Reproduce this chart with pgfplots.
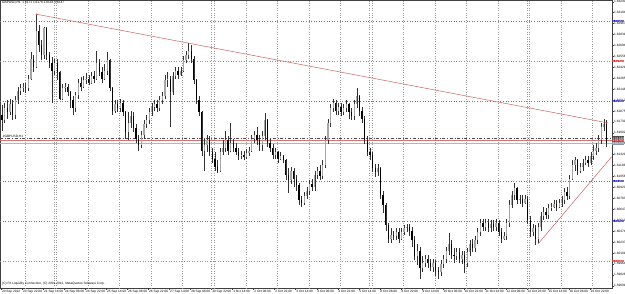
\documentclass[border=0pt]{standalone}
\usepackage{fontspec}
\setmainfont{Liberation Sans}
\usepackage{pgfplots}
\usepackage{pgfplotstable}
\pgfplotsset{compat=1.18}
\usetikzlibrary{calc}
\pgfdeclarelayer{bg}
\pgfsetlayers{bg,main}
\definecolor{hblue}{HTML}{6C6CD8}
\definecolor{hred}{HTML}{D87474}
\definecolor{tline}{HTML}{C86464}
\definecolor{boxblue}{HTML}{2424A8}
\definecolor{boxred}{HTML}{D82828}
\definecolor{gridc}{HTML}{9A9A9A}
\definecolor{bidc}{HTML}{8A96AA}
\pgfplotstableread{
k o h l c
0 1.6182 1.6195 1.6163 1.6176
1 1.6176 1.6197 1.6173 1.6191
2 1.6191 1.6201 1.6178 1.6186
3 1.6186 1.6203 1.6182 1.6196
4 1.6196 1.6201 1.6176 1.6183
5 1.6183 1.6206 1.6178 1.6201
6 1.6201 1.6218 1.6196 1.6213
7 1.6213 1.6221 1.6208 1.6216
8 1.6216 1.6223 1.6211 1.6218
9 1.6218 1.6222 1.6210 1.6216
10 1.6216 1.6233 1.6213 1.6228
11 1.6228 1.6261 1.6226 1.6253
12 1.6253 1.6257 1.6236 1.6243
13 1.6243 1.6307 1.6241 1.6288
14 1.6288 1.6295 1.6261 1.6270
15 1.6270 1.6276 1.6251 1.6257
16 1.6257 1.6292 1.6253 1.6291
17 1.6291 1.6292 1.6251 1.6257
18 1.6257 1.6261 1.6241 1.6248
19 1.6248 1.6255 1.6197 1.6238
20 1.6238 1.6253 1.6232 1.6248
21 1.6248 1.6253 1.6226 1.6236
22 1.6236 1.6238 1.6201 1.6203
23 1.6203 1.6221 1.6201 1.6216
24 1.6216 1.6223 1.6211 1.6218
25 1.6218 1.6221 1.6206 1.6211
26 1.6211 1.6213 1.6191 1.6201
27 1.6201 1.6206 1.6182 1.6191
28 1.6191 1.6211 1.6186 1.6207
29 1.6207 1.6228 1.6203 1.6223
30 1.6223 1.6230 1.6213 1.6218
31 1.6218 1.6231 1.6216 1.6226
32 1.6226 1.6235 1.6221 1.6228
33 1.6228 1.6233 1.6220 1.6223
34 1.6223 1.6236 1.6221 1.6231
35 1.6231 1.6238 1.6223 1.6228
36 1.6228 1.6263 1.6226 1.6248
37 1.6248 1.6253 1.6231 1.6236
38 1.6236 1.6243 1.6223 1.6228
39 1.6228 1.6246 1.6226 1.6238
40 1.6238 1.6261 1.6233 1.6251
41 1.6251 1.6253 1.6213 1.6216
42 1.6216 1.6218 1.6183 1.6188
43 1.6188 1.6201 1.6185 1.6196
44 1.6196 1.6201 1.6186 1.6191
45 1.6191 1.6203 1.6186 1.6198
46 1.6198 1.6201 1.6181 1.6186
47 1.6186 1.6188 1.6153 1.6161
48 1.6161 1.6186 1.6151 1.6173
49 1.6173 1.6188 1.6166 1.6181
50 1.6181 1.6186 1.6161 1.6166
51 1.6166 1.6171 1.6148 1.6153
52 1.6153 1.6158 1.6138 1.6145
53 1.6145 1.6163 1.6141 1.6158
54 1.6158 1.6176 1.6153 1.6171
55 1.6171 1.6182 1.6166 1.6176
56 1.6176 1.6191 1.6171 1.6186
57 1.6186 1.6198 1.6181 1.6193
58 1.6193 1.6201 1.6188 1.6196
59 1.6196 1.6201 1.6186 1.6191
60 1.6191 1.6206 1.6188 1.6201
61 1.6201 1.6211 1.6196 1.6206
62 1.6206 1.6233 1.6203 1.6226
63 1.6226 1.6236 1.6218 1.6228
64 1.6228 1.6231 1.6167 1.6211
65 1.6211 1.6236 1.6207 1.6231
66 1.6231 1.6243 1.6228 1.6238
67 1.6238 1.6243 1.6228 1.6233
68 1.6233 1.6243 1.6231 1.6238
69 1.6238 1.6256 1.6236 1.6251
70 1.6251 1.6263 1.6248 1.6257
71 1.6257 1.6272 1.6253 1.6263
72 1.6263 1.6270 1.6248 1.6253
73 1.6253 1.6256 1.6221 1.6226
74 1.6226 1.6228 1.6196 1.6201
75 1.6201 1.6206 1.6181 1.6186
76 1.6186 1.6188 1.6131 1.6138
77 1.6138 1.6153 1.6113 1.6145
78 1.6145 1.6158 1.6136 1.6151
79 1.6151 1.6156 1.6131 1.6136
80 1.6136 1.6141 1.6123 1.6128
81 1.6128 1.6136 1.6113 1.6118
82 1.6118 1.6126 1.6110 1.6113
83 1.6113 1.6141 1.6111 1.6136
84 1.6136 1.6151 1.6132 1.6141
85 1.6141 1.6163 1.6136 1.6151
86 1.6151 1.6156 1.6133 1.6138
87 1.6138 1.6173 1.6136 1.6148
88 1.6148 1.6153 1.6136 1.6141
89 1.6141 1.6148 1.6132 1.6136
90 1.6136 1.6141 1.6126 1.6131
91 1.6131 1.6138 1.6128 1.6133
92 1.6133 1.6138 1.6126 1.6130
93 1.6130 1.6140 1.6128 1.6135
94 1.6135 1.6143 1.6131 1.6138
95 1.6138 1.6158 1.6136 1.6153
96 1.6153 1.6163 1.6148 1.6157
97 1.6157 1.6167 1.6145 1.6151
98 1.6151 1.6158 1.6138 1.6145
99 1.6145 1.6163 1.6138 1.6156
100 1.6156 1.6185 1.6151 1.6176
101 1.6176 1.6178 1.6143 1.6148
102 1.6148 1.6153 1.6136 1.6141
103 1.6141 1.6146 1.6128 1.6132
104 1.6132 1.6141 1.6128 1.6136
105 1.6136 1.6138 1.6123 1.6128
106 1.6128 1.6136 1.6126 1.6131
107 1.6131 1.6133 1.6122 1.6126
108 1.6126 1.6128 1.6101 1.6107
109 1.6107 1.6116 1.6085 1.6101
110 1.6101 1.6118 1.6096 1.6113
111 1.6113 1.6116 1.6093 1.6103
112 1.6103 1.6108 1.6088 1.6095
113 1.6095 1.6098 1.6070 1.6076
114 1.6076 1.6081 1.6067 1.6073
115 1.6073 1.6086 1.6070 1.6081
116 1.6081 1.6093 1.6078 1.6088
117 1.6088 1.6101 1.6083 1.6096
118 1.6096 1.6103 1.6088 1.6093
119 1.6093 1.6113 1.6088 1.6107
120 1.6107 1.6118 1.6103 1.6113
121 1.6113 1.6120 1.6101 1.6106
122 1.6106 1.6126 1.6103 1.6120
123 1.6120 1.6156 1.6116 1.6151
124 1.6151 1.6178 1.6146 1.6173
125 1.6173 1.6196 1.6168 1.6191
126 1.6191 1.6203 1.6186 1.6198
127 1.6198 1.6201 1.6183 1.6188
128 1.6188 1.6198 1.6183 1.6193
129 1.6193 1.6198 1.6181 1.6186
130 1.6186 1.6196 1.6183 1.6191
131 1.6191 1.6201 1.6186 1.6196
132 1.6196 1.6198 1.6178 1.6186
133 1.6186 1.6191 1.6176 1.6181
134 1.6181 1.6201 1.6176 1.6196
135 1.6196 1.6216 1.6191 1.6206
136 1.6206 1.6208 1.6181 1.6188
137 1.6188 1.6193 1.6173 1.6178
138 1.6178 1.6181 1.6146 1.6151
139 1.6151 1.6156 1.6131 1.6136
140 1.6136 1.6141 1.6126 1.6132
141 1.6132 1.6136 1.6111 1.6116
142 1.6116 1.6121 1.6105 1.6111
143 1.6111 1.6121 1.6106 1.6116
144 1.6116 1.6118 1.6078 1.6082
145 1.6082 1.6088 1.6060 1.6070
146 1.6070 1.6073 1.6038 1.6045
147 1.6045 1.6048 1.6022 1.6028
148 1.6028 1.6041 1.6023 1.6033
149 1.6033 1.6038 1.6026 1.6031
150 1.6031 1.6041 1.6026 1.6036
151 1.6036 1.6041 1.6023 1.6028
152 1.6028 1.6041 1.6026 1.6036
153 1.6036 1.6045 1.6033 1.6041
154 1.6041 1.6046 1.6036 1.6043
155 1.6043 1.6046 1.6031 1.6038
156 1.6038 1.6043 1.6018 1.6026
157 1.6026 1.6031 1.6001 1.6006
158 1.6006 1.6021 1.5995 1.6013
159 1.6013 1.6018 1.5978 1.5991
160 1.5991 1.6006 1.5986 1.5998
161 1.5998 1.6008 1.5993 1.6003
162 1.6003 1.6008 1.5991 1.5998
163 1.5998 1.6003 1.5988 1.5993
164 1.5993 1.6003 1.5986 1.5998
165 1.5998 1.6001 1.5981 1.5988
166 1.5988 1.5993 1.5978 1.5986
167 1.5986 1.6001 1.5981 1.5996
168 1.5996 1.6008 1.5991 1.6003
169 1.6003 1.6018 1.5998 1.6013
170 1.6013 1.6035 1.6008 1.6021
171 1.6021 1.6026 1.6003 1.6008
172 1.6008 1.6016 1.5998 1.6006
173 1.6006 1.6016 1.6001 1.6011
174 1.6011 1.6016 1.5998 1.6003
175 1.6003 1.6013 1.5996 1.6008
176 1.6008 1.6013 1.5985 1.5998
177 1.5998 1.6016 1.5993 1.6011
178 1.6011 1.6026 1.6006 1.6021
179 1.6021 1.6028 1.6011 1.6016
180 1.6016 1.6031 1.6011 1.6026
181 1.6026 1.6041 1.6021 1.6036
182 1.6036 1.6053 1.6031 1.6048
183 1.6048 1.6053 1.6038 1.6043
184 1.6043 1.6053 1.6038 1.6048
185 1.6048 1.6053 1.6036 1.6041
186 1.6041 1.6051 1.6036 1.6046
187 1.6046 1.6051 1.6038 1.6043
188 1.6043 1.6053 1.6038 1.6048
189 1.6048 1.6051 1.6031 1.6036
190 1.6036 1.6041 1.6023 1.6028
191 1.6028 1.6036 1.6026 1.6031
192 1.6031 1.6053 1.6026 1.6048
193 1.6048 1.6076 1.6043 1.6070
194 1.6070 1.6088 1.6066 1.6082
195 1.6082 1.6097 1.6076 1.6091
196 1.6091 1.6093 1.6071 1.6076
197 1.6076 1.6083 1.6071 1.6078
198 1.6078 1.6082 1.6068 1.6073
199 1.6073 1.6083 1.6071 1.6078
200 1.6078 1.6081 1.6046 1.6051
201 1.6051 1.6056 1.6030 1.6036
202 1.6036 1.6046 1.6031 1.6041
203 1.6041 1.6045 1.6020 1.6028
204 1.6028 1.6048 1.6023 1.6043
205 1.6043 1.6061 1.6038 1.6056
206 1.6056 1.6067 1.6051 1.6061
207 1.6061 1.6066 1.6053 1.6057
208 1.6057 1.6071 1.6053 1.6066
209 1.6066 1.6073 1.6063 1.6068
210 1.6068 1.6076 1.6066 1.6071
211 1.6071 1.6076 1.6063 1.6068
212 1.6068 1.6078 1.6066 1.6073
213 1.6073 1.6081 1.6068 1.6076
214 1.6076 1.6091 1.6071 1.6086
215 1.6086 1.6092 1.6076 1.6081
216 1.6081 1.6108 1.6078 1.6103
217 1.6103 1.6126 1.6101 1.6120
218 1.6120 1.6130 1.6113 1.6126
219 1.6126 1.6128 1.6108 1.6113
220 1.6113 1.6123 1.6110 1.6118
221 1.6118 1.6128 1.6113 1.6123
222 1.6123 1.6131 1.6120 1.6126
223 1.6126 1.6131 1.6118 1.6123
224 1.6123 1.6136 1.6120 1.6131
225 1.6131 1.6145 1.6126 1.6138
226 1.6138 1.6148 1.6132 1.6141
227 1.6141 1.6158 1.6136 1.6151
228 1.6151 1.6173 1.6146 1.6168
229 1.6168 1.6178 1.6163 1.6171
230 1.6171 1.6176 1.6143 1.6147
}\bars

\begin{document}
\begin{tikzpicture}[x=1bp,y=1bp]
\begin{axis}[
  name=ax,
  scale only axis, width=612bp, height=288bp,
  xmin=-0.514, xmax=232.36, ymin=1.596625, ymax=1.632625,
  clip=false,
  axis line style={black!75, line width=0.5bp},
  font=\fontsize{3.2}{3.6}\selectfont,
  xtick={0,8,...,224},
  xticklabels={20 Sep 2012, 20 Sep 22:00, 21 Sep 14:00, 24 Sep 06:00, 24 Sep 22:00, 25 Sep 14:00, 26 Sep 06:00, 26 Sep 22:00, 27 Sep 14:00, 28 Sep 06:00, 30 Sep 22:00, 1 Oct 14:00, 2 Oct 06:00, 2 Oct 22:00, 3 Oct 14:00, 4 Oct 06:00, 4 Oct 22:00, 5 Oct 14:00, 8 Oct 06:00, 8 Oct 22:00, 9 Oct 14:00, 10 Oct 06:00, 10 Oct 22:00, 11 Oct 14:00, 12 Oct 06:00, 14 Oct 22:00, 15 Oct 14:00, 16 Oct 06:00, 16 Oct 22:00},
  xtick pos=bottom, ytick pos=right, tick align=outside,
  major tick length=1.6bp,
  tick style={black!75, line width=0.4bp},
  xticklabel style={anchor=north west, inner sep=0.3bp, xshift=0.2bp},
  ytick={1.59691,1.59828,1.59964,1.60101,1.60237,1.60374,1.60510,1.60647,1.60783,1.60920,1.61056,1.61193,1.61329,1.61466,1.61602,1.61739,1.61875,1.62012,1.62148,1.62285,1.62421,1.62558,1.62694,1.62831,1.62967,1.63104,1.63240},
  yticklabels={1.59691,1.59828,1.59964,1.60101,1.60237,1.60374,1.60510,1.60647,1.60783,1.60920,1.61056,1.61193,1.61329,1.61466,1.61602,1.61739,1.61875,1.62012,1.62148,1.62285,1.62421,1.62558,1.62694,1.62831,1.62967,1.63104,1.63240},
  yticklabel pos=right,
  yticklabel style={anchor=west, inner sep=0.3bp},
  scaled y ticks=false,
  extra x ticks={9,20,21,33,45,57,69,80,81,93,105,117,129,140,141,153,165,177,189,200,201,213,225},
  extra x tick labels={},
  extra x tick style={grid=major, major grid style={gridc, dotted, line width=0.5bp}, major tick length=0pt},
]
\coordinate (BL) at (rel axis cs:0,0);
% horizontal level lines
\addplot[hblue, dotted, line width=0.6bp, forget plot] coordinates {(-0.514,1.6300) (232.36,1.6300)};
\addplot[hred, dotted, line width=0.6bp, forget plot] coordinates {(-0.514,1.6250) (232.36,1.6250)};
\addplot[hblue, dotted, line width=0.6bp, forget plot] coordinates {(-0.514,1.6200) (232.36,1.6200)};
\addplot[hblue, dotted, line width=0.6bp, forget plot] coordinates {(-0.514,1.6100) (232.36,1.6100)};
\addplot[hblue, dotted, line width=0.6bp, forget plot] coordinates {(-0.514,1.6050) (232.36,1.6050)};
\addplot[hred, dotted, line width=0.6bp, forget plot] coordinates {(-0.514,1.6000) (232.36,1.6000)};
\addplot[black!70, dash dot, line width=0.5bp, forget plot] coordinates {(-0.514,1.61538) (232.36,1.61538)};
\addplot[hred, line width=0.6bp, forget plot] coordinates {(-0.514,1.61505) (232.36,1.61505)};
\addplot[bidc!70, line width=0.5bp, forget plot] coordinates {(-0.514,1.61470) (232.36,1.61470)};
% wicks
\addplot[draw=none, mark=none, forget plot,
  error bars/.cd, y dir=both, y explicit, error mark=none,
  error bar style={draw=black!80, line width=0.4bp}]
  table[x expr={\thisrow{k}+0.25}, y expr={(\thisrow{h}+\thisrow{l})/2}, y error expr={(\thisrow{h}-\thisrow{l})/2}] {\bars};
% bearish bodies
\addplot[draw=none, mark=none, forget plot, restrict x to domain=-5:240,
  error bars/.cd, y dir=both, y explicit, error mark=none,
  error bar style={draw=black, line width=1.25bp}]
  table[x expr={ifthenelse(\thisrow{o}>=\thisrow{c},\thisrow{k}+0.25,-100)}, y expr={(\thisrow{o}+\thisrow{c})/2}, y error expr={abs(\thisrow{o}-\thisrow{c})/2}] {\bars};
% bullish bodies
\addplot[draw=none, mark=none, forget plot, restrict x to domain=-5:240,
  error bars/.cd, y dir=both, y explicit, error mark=none,
  error bar style={draw=black!35, line width=1.25bp}]
  table[x expr={ifthenelse(\thisrow{c}>\thisrow{o},\thisrow{k}+0.25,-100)}, y expr={(\thisrow{o}+\thisrow{c})/2}, y error expr={abs(\thisrow{o}-\thisrow{c})/2}] {\bars};
% trend lines
\addplot[tline, line width=0.5bp, forget plot] coordinates {(13.45,1.63084) (231,1.61725)};
\addplot[tline, line width=0.5bp, forget plot] coordinates {(204.1,1.60209) (232.25,1.61304)};
\addplot[tline, only marks, mark=*, mark size=0.6bp, forget plot] coordinates {(13.45,1.63084)};
% price boxes on the scale
\node[anchor=west, fill=boxblue, text=white, inner sep=0.35bp] at (axis cs:232.36,1.6300) {1.63000};
\node[anchor=west, fill=boxred, text=white, inner sep=0.35bp] at (axis cs:232.36,1.6250) {1.62500};
\node[anchor=west, fill=boxblue, text=white, inner sep=0.35bp] at (axis cs:232.36,1.6200) {1.62000};
\node[anchor=west, fill=black!75, text=white, inner sep=0.35bp] at (axis cs:232.36,1.61538) {1.61538};
\node[anchor=west, fill=boxred, text=white, inner sep=0.35bp] at (axis cs:232.36,1.61505) {1.61505};
\node[anchor=west, fill=bidc, text=white, inner sep=0.35bp] at (axis cs:232.36,1.61470) {1.61470};
\node[anchor=west, fill=boxblue, text=white, inner sep=0.35bp] at (axis cs:232.36,1.6100) {1.61000};
\node[anchor=west, fill=boxblue, text=white, inner sep=0.35bp] at (axis cs:232.36,1.6050) {1.60500};
\node[anchor=west, fill=boxred, text=white, inner sep=0.35bp] at (axis cs:232.36,1.6000) {1.60000};
\node[anchor=south west, inner sep=0, yshift=0.3bp] at (axis cs:0.5,1.61538) {\#GBPUSD,H1};
\end{axis}
\node[anchor=north west, inner sep=0, font=\fontsize{3.2}{3.6}\selectfont] at ($(BL)+(2,286.5)$) {GBPUSD,H1\ \ 1.6171 1.6176 1.6143 1.6147};
\node[anchor=south west, inner sep=0, font=\fontsize{3.2}{3.6}\selectfont] at ($(BL)+(2,2.6)$) {(C) FX Liquidity Connection, (C) 2001-2012, MetaQuotes Software Corp.};
\begin{pgfonlayer}{bg}
\fill[white] ($(BL)+(0,-5)$) rectangle ($(BL)+(625,288)$);
\end{pgfonlayer}
\pgfresetboundingbox
\path[use as bounding box] ($(BL)+(0,-5)$) rectangle ($(BL)+(625,288)$);
\end{tikzpicture}
\end{document}
